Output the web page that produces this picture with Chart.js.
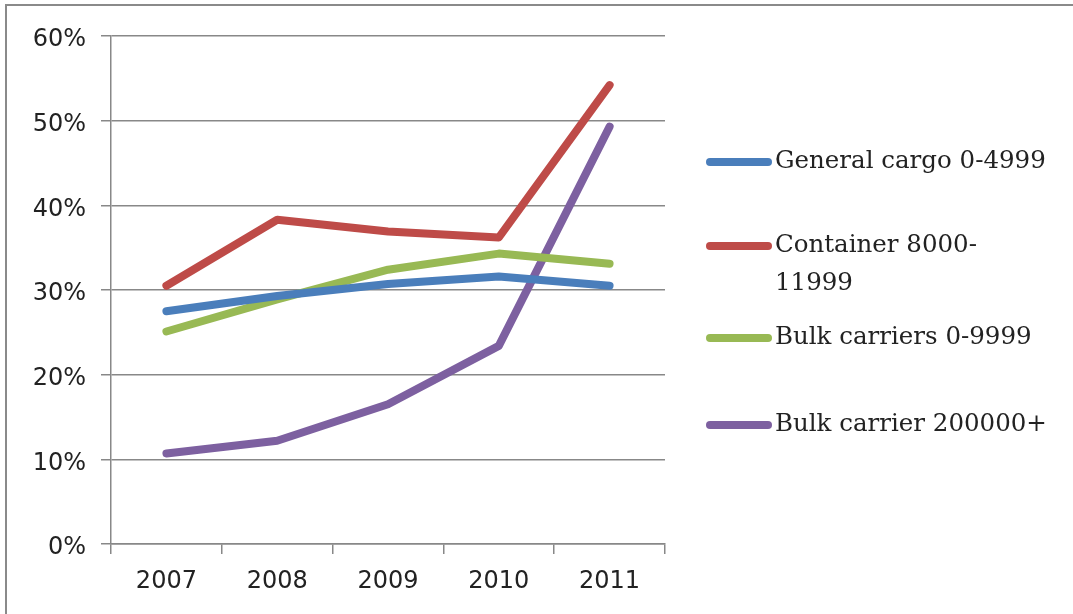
<!DOCTYPE html>
<html>
<head>
<meta charset="utf-8">
<script src="https://cdn.jsdelivr.net/npm/chart.js@4"></script>
<style>
  html, body { margin: 0; padding: 0; background: #fff; }
  #wrap { position: relative; width: 1073px; height: 614px; overflow: hidden; }
  #frame { position: absolute; left: 5px; top: 4px; width: 1080px; height: 700px;
           border-left: 2px solid #8a8a8a; border-top: 2px solid #8a8a8a; }
  canvas { position: absolute; left: 0; top: 0; }
</style>
</head>
<body>
<div id="wrap">
  <div id="frame"></div>
  <canvas id="chart" width="1073" height="614"></canvas>
</div>
<script>
// Data
const years = ['2007', '2008', '2009', '2010', '2011'];
const generalCargo = [27.5, 29.3, 30.7, 31.6, 30.5];
const container = [30.5, 38.3, 36.9, 36.2, 54.2];
const bulkSmall = [25.1, 28.9, 32.4, 34.3, 33.1];
const bulkLarge = [10.7, 12.2, 16.5, 23.4, 49.3];
const seriesNames = [['General cargo 0-4999'], ['Container 8000-', '11999'], ['Bulk carriers 0-9999'], ['Bulk carrier 200000+']];
const colors = ['#4A7EBB', '#BE4B48', '#98B954', '#7D60A0'];
const yTicks = [0, 10, 20, 30, 40, 50, 60];

// legend drawn by hand, Excel style
const legendYs = [162, 246, 338, 425];
const sideLegend = {
  id: 'sideLegend',
  afterDraw(chart) {
    const ctx = chart.ctx;
    ctx.save();
    ctx.font = '24.5px "DejaVu Serif", "Liberation Serif", serif';
    ctx.fillStyle = '#222';
    ctx.textBaseline = 'middle';
    chart.data.datasets.forEach((ds, i) => {
      const y = legendYs[i];
      ctx.strokeStyle = ds.borderColor;
      ctx.lineWidth = 8;
      ctx.lineCap = 'round';
      ctx.beginPath();
      ctx.moveTo(710, y);
      ctx.lineTo(768, y);
      ctx.stroke();
      seriesNames[i].forEach((line, j) => {
        ctx.fillText(line, 775, y + j * 38);
      });
    });
    ctx.restore();
  }
};

const tickFont = { family: '"DejaVu Sans", Verdana, sans-serif', size: 24 };

const ctx = document.getElementById('chart').getContext('2d');
new Chart(ctx, {
  type: 'line',
  data: {
    labels: years,
    datasets: [generalCargo, container, bulkSmall, bulkLarge].map((d, i) => ({
      label: seriesNames[i].join(''),
      data: d,
      borderColor: colors[i],
      backgroundColor: colors[i],
      borderWidth: 8,
      borderCapStyle: 'round',
      borderJoinStyle: 'round',
      pointRadius: 0,
      tension: 0
    }))
  },
  options: {
    responsive: false,
    animation: false,
    layout: { padding: { top: 36, right: 408, left: 0, bottom: 0 } },
    plugins: { legend: { display: false }, tooltip: { enabled: false } },
    scales: {
      x: {
        offset: true,
        grid: { display: true, drawOnChartArea: false, color: '#888', lineWidth: 1.5, tickLength: 10, offset: true },
        border: { color: '#888', width: 1.5 },
        ticks: { color: '#222', font: tickFont, padding: 13 },
        afterFit(scale) { scale.height = 70; }
      },
      y: {
        min: 0,
        max: 60,
        afterBuildTicks(scale) { scale.ticks = yTicks.map(v => ({ value: v })); },
        grid: { color: '#888', lineWidth: 1.5, tickLength: 10 },
        border: { color: '#888', width: 1.5 },
        ticks: {
          color: '#222',
          font: tickFont,
          padding: 15,
          labelOffset: 4,
          callback: v => v + '%'
        },
        afterFit(scale) { scale.width = 111; }
      }
    }
  },
  plugins: [sideLegend]
});
</script>
</body>
</html>
